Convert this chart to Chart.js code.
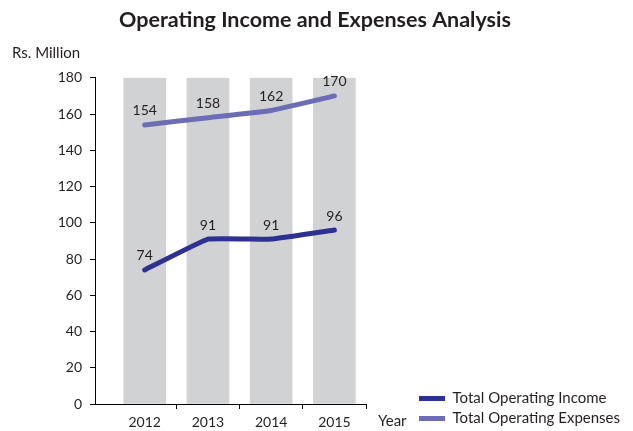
<!DOCTYPE html>
<html>
<head>
<meta charset="utf-8">
<script src="https://cdn.jsdelivr.net/npm/chart.js@4/dist/chart.umd.min.js"></script>
<style>
  html, body { margin: 0; padding: 0; background: #ffffff; }
  #wrap { width: 633px; height: 431px; }
</style>
</head>
<body>
<div id="wrap"><canvas id="chart" width="633" height="431"></canvas></div>
<script>
// Values in Rs. Million
const years = ['2012', '2013', '2014', '2015'];
const incomeValues = [74, 91, 91, 96];
const expenseValues = [154, 158, 162, 170];
const yMin = 0;
const yMax = 180;
const yStep = 20;

const textColor = '#231F20';
const family = 'Lato, "Open Sans", sans-serif';
Chart.defaults.font.family = family;
Chart.defaults.color = textColor;

const toPoints = vals => vals.map((v, i) => ({ x: i, y: v }));

// let the side legend take the width its labels need
const wideLegend = {
  id: 'wideLegend',
  beforeLayout(chart) {
    const lg = chart.legend;
    if (lg && !lg._wideLegend) {
      const orig = lg.update.bind(lg);
      lg.update = (w, h, m) => orig(Math.max(w, 260), h, m);
      lg._wideLegend = true;
    }
  }
};

// value labels above each line point, plus the two axis captions
const annotate = {
  id: 'annotate',
  afterDatasetsDraw(chart) {
    const ctx = chart.ctx;
    ctx.save();
    ctx.font = '14px ' + family;
    ctx.fillStyle = textColor;
    ctx.textAlign = 'center';
    ctx.textBaseline = 'middle';
    chart.data.datasets.forEach((ds, di) => {
      if (!ds.showValues) return;
      const meta = chart.getDatasetMeta(di);
      meta.data.forEach((el, i) => {
        ctx.fillText(String(ds.data[i].y), el.x, el.y - 14);
      });
    });
    const xs = chart.scales.x, ys = chart.scales.y;
    ctx.font = '15px ' + family;
    ctx.textAlign = 'left';
    ctx.fillText('Rs. Million', 12, ys.top - 25);
    ctx.fillText('Year', xs.right + 12, xs.top + 17);
    ctx.restore();
  }
};

new Chart(document.getElementById('chart'), {
  type: 'bar',
  data: {
    datasets: [
      {
        type: 'line',
        label: 'Total Operating Income',
        data: toPoints(incomeValues),
        borderColor: '#2E3192',
        backgroundColor: '#2E3192',
        borderWidth: 5,
        borderCapStyle: 'round',
        borderJoinStyle: 'round',
        tension: 0.08,
        pointRadius: 0,
        showValues: true,
        order: 0
      },
      {
        type: 'line',
        label: 'Total Operating Expenses',
        data: toPoints(expenseValues),
        borderColor: '#6C6DB4',
        backgroundColor: '#6C6DB4',
        borderWidth: 5,
        borderCapStyle: 'round',
        borderJoinStyle: 'round',
        tension: 0.08,
        pointRadius: 0,
        showValues: true,
        order: 1
      },
      {
        type: 'bar',
        label: 'band',
        data: years.map((_, i) => ({ x: i, y: yMax })),
        backgroundColor: '#D1D2D4',
        barThickness: 42,
        order: 2
      }
    ]
  },
  options: {
    responsive: false,
    animation: false,
    layout: { padding: { left: 0, right: 3, top: 0, bottom: 0 } },
    plugins: {
      tooltip: { enabled: false },
      title: {
        display: true,
        text: 'Operating Income and Expenses Analysis',
        font: { size: 21.5, weight: 'bold' },
        color: textColor,
        padding: { top: 7, bottom: 45 }
      },
      legend: {
        position: 'right',
        align: 'end',
        labels: {
          boxWidth: 26,
          boxHeight: 5,
          padding: 5,
          font: { size: 15 },
          color: textColor,
          generateLabels(chart) {
            return Chart.defaults.plugins.legend.labels.generateLabels(chart)
              .filter(l => chart.data.datasets[l.datasetIndex].type === 'line')
              .map(l => Object.assign(l, { lineWidth: 0 }));
          }
        }
      }
    },
    scales: {
      x: {
        type: 'linear',
        offset: false,
        min: -0.786,
        max: years.length - 0.5,
        afterBuildTicks(s) {
          const t = [];
          years.forEach((_, i) => { t.push({ value: i }); t.push({ value: i + 0.5 }); });
          s.ticks = t;
        },
        afterFit(s) { s.height = 27; },
        ticks: {
          autoSkip: false,
          maxRotation: 0,
          padding: 5,
          font: { size: 14 },
          color: textColor,
          callback: v => Number.isInteger(v) ? years[v] : ''
        },
        grid: {
          offset: false,
          drawOnChartArea: false,
          tickLength: 5,
          tickColor: c => (c.tick && Number.isInteger(c.tick.value)) ? 'rgba(0,0,0,0)' : '#000'
        },
        border: { display: true, color: '#000', width: 1 }
      },
      y: {
        min: yMin,
        max: yMax,
        afterFit(s) { s.width = 95; },
        ticks: { stepSize: yStep, padding: 8, font: { size: 14 }, color: textColor },
        grid: { drawOnChartArea: false, tickLength: 5, tickColor: '#000' },
        border: { display: true, color: '#000', width: 1 }
      },
      gap: {
        type: 'linear',
        position: 'right',
        display: true,
        afterFit(s) { s.width = 48; },
        ticks: { display: false },
        grid: { display: false, drawTicks: false },
        border: { display: false }
      }
    }
  },
  plugins: [wideLegend, annotate]
});
</script>
</body>
</html>
